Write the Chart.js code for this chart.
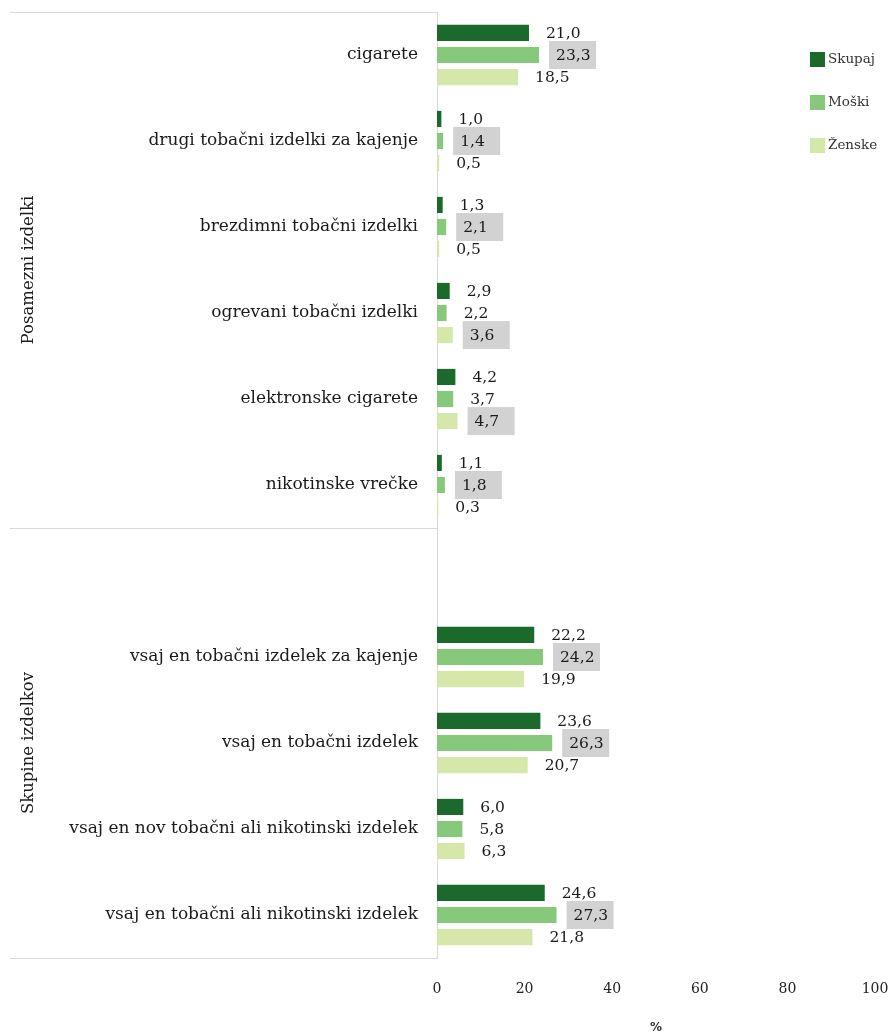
<!DOCTYPE html>
<html>
<head>
<meta charset="utf-8">
<script src="https://cdn.jsdelivr.net/npm/chart.js@4"></script>
<style>
  html, body { margin: 0; padding: 0; background: #fff; overflow: hidden; }
  #wrap { width: 896px; height: 1036px; position: relative; overflow: hidden; }
  canvas { display: block; }
</style>
</head>
<body>
<div id="wrap"><canvas id="barChart"></canvas></div>
<script>
const categories = [
  'cigarete',
  'drugi tobačni izdelki za kajenje',
  'brezdimni tobačni izdelki',
  'ogrevani tobačni izdelki',
  'elektronske cigarete',
  'nikotinske vrečke',
  '',
  'vsaj en tobačni izdelek za kajenje',
  'vsaj en tobačni izdelek',
  'vsaj en nov tobačni ali nikotinski izdelek',
  'vsaj en tobačni ali nikotinski izdelek'
];
const skupaj = [21.0, 1.0, 1.3, 2.9, 4.2, 1.1, null, 22.2, 23.6, 6.0, 24.6];
const moski  = [23.3, 1.4, 2.1, 2.2, 3.7, 1.8, null, 24.2, 26.3, 5.8, 27.3];
const zenske = [18.5, 0.5, 0.5, 3.6, 4.7, 0.3, null, 19.9, 20.7, 6.3, 21.8];
const seriesNames = ['Skupaj', 'Moški', 'Ženske'];
const groupNames = ['Posamezni izdelki', 'Skupine izdelkov'];
const groupRanges = [[0, 5], [6, 10]];
const xTicks = [0, 20, 40, 60, 80, 100];
const axisTitle = '%';
// labels that get the grey box: [category index, series index]
const boxed = [[0, 1], [1, 1], [2, 1], [3, 2], [4, 2], [5, 1], [7, 1], [8, 1], [10, 1]];

const colors = ['#1b6a2c', '#86c97a', '#d5e8a9'];
const serif = "'DejaVu Serif', serif";

const fmt = v => v.toFixed(1).replace('.', ',');

const decor = {
  id: 'decor',
  afterDatasetsDraw(chart) {
    const ctx = chart.ctx;
    ctx.save();
    ctx.font = '15.5px ' + serif;
    ctx.textBaseline = 'middle';
    ctx.textAlign = 'left';
    chart.data.datasets.forEach((ds, di) => {
      chart.getDatasetMeta(di).data.forEach((bar, i) => {
        const v = ds.data[i];
        if (v === null) return;
        if (boxed.some(b => b[0] === i && b[1] === di)) {
          ctx.fillStyle = '#d2d2d2';
          ctx.fillRect(bar.x + 10, bar.y - 14, 47, 28);
        }
        ctx.fillStyle = '#1a1a1a';
        ctx.fillText(fmt(v), bar.x + 17, bar.y + 1);
      });
    });
    ctx.restore();
  },
  afterDraw(chart) {
    const { ctx, chartArea, scales: { y } } = chart;
    const half = (y.getPixelForValue(1) - y.getPixelForValue(0)) / 2;
    ctx.save();
    ctx.strokeStyle = '#d9d9d9';
    ctx.lineWidth = 1;
    groupRanges.forEach((r, gi) => {
      const top = y.getPixelForValue(r[0]) - half;
      const bottom = y.getPixelForValue(r[1]) + half;
      [top, bottom].forEach(py => {
        ctx.beginPath();
        ctx.moveTo(10, Math.round(py) + 0.5);
        ctx.lineTo(chartArea.left, Math.round(py) + 0.5);
        ctx.stroke();
      });
      ctx.save();
      ctx.translate(29, (top + bottom) / 2);
      ctx.rotate(-Math.PI / 2);
      ctx.font = '16.5px ' + serif;
      ctx.fillStyle = '#1a1a1a';
      ctx.textAlign = 'center';
      ctx.textBaseline = 'middle';
      ctx.fillText(groupNames[gi], 0, 0);
      ctx.restore();
    });

    // legend
    ctx.font = '13.5px ' + serif;
    ctx.textBaseline = 'middle';
    ctx.textAlign = 'left';
    seriesNames.forEach((name, i) => {
      const cy = 59 + i * 43;
      ctx.fillStyle = colors[i];
      ctx.fillRect(810, cy - 7, 15, 15);
      ctx.fillStyle = '#333';
      ctx.fillText(name, 828, cy);
    });

    // axis title
    ctx.font = 'bold 12px "DejaVu Sans", sans-serif';
    ctx.fillStyle = '#333';
    ctx.textAlign = 'center';
    ctx.fillText(axisTitle, (chartArea.left + chartArea.right) / 2, 1028);
    ctx.restore();
  }
};

const ctxBar = document.getElementById('barChart').getContext('2d');
new Chart(ctxBar, {
  type: 'bar',
  data: {
    labels: categories,
    datasets: [skupaj, moski, zenske].map((d, i) => ({
      label: seriesNames[i],
      data: d,
      backgroundColor: colors[i],
      categoryPercentage: 0.77,
      barPercentage: 0.73
    }))
  },
  options: {
    indexAxis: 'y',
    responsive: true,
    maintainAspectRatio: false,
    animation: false,
    layout: { padding: { top: 12, right: 21, left: 0, bottom: 0 } },
    plugins: { legend: { display: false }, tooltip: { enabled: false } },
    scales: {
      x: {
        min: 0,
        max: 100,
        afterBuildTicks: s => { s.ticks = xTicks.map(v => ({ value: v })); },
        afterFit: s => { s.height = 78; s.paddingLeft = 0; s.paddingRight = 0; },
        grid: { display: false, drawTicks: false },
        border: { display: false },
        ticks: { font: { family: serif, size: 14 }, color: '#222', padding: 23 }
      },
      y: {
        afterFit: s => { s.width = 437; s.paddingTop = 0; s.paddingBottom = 0; },
        grid: { display: false, drawTicks: false },
        border: { display: true, color: '#d9d9d9' },
        ticks: { font: { family: serif, size: 17 }, color: '#1a1a1a', padding: 19 }
      }
    }
  },
  plugins: [decor]
});
</script>
</body>
</html>
